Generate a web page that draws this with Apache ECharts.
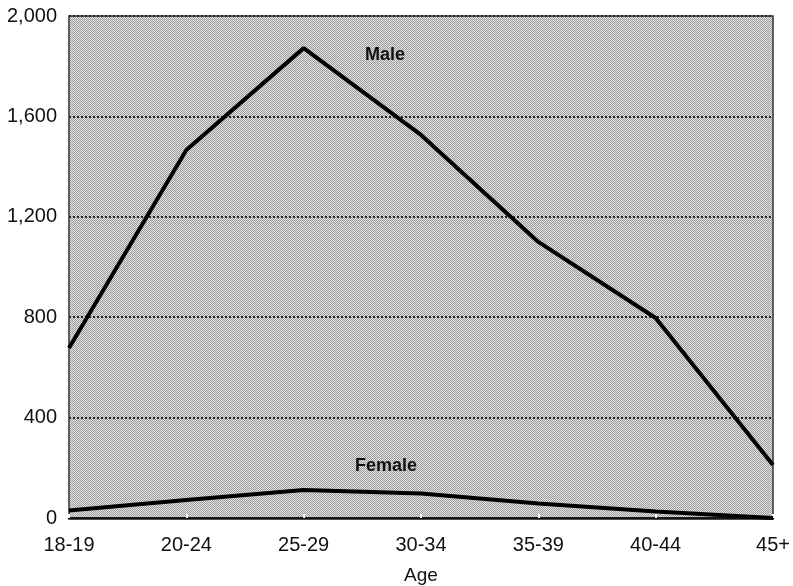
<!DOCTYPE html>
<html>
<head>
<meta charset="utf-8">
<script src="https://cdn.jsdelivr.net/npm/echarts@6/dist/echarts.min.js"></script>
<style>
  html, body { margin: 0; padding: 0; background: #fff; }
  #chart { width: 793px; height: 586px; }
</style>
</head>
<body>
<div id="chart"></div>
<script>
  // age groups on the x axis
  var ages = ['18-19', '20-24', '25-29', '30-34', '35-39', '40-44', '45+'];
  // values
  var male = [677, 1466, 1872, 1526, 1100, 797, 211];
  var female = [30, 72, 112, 98, 58, 26, 0];
  var yTicks = [0, 400, 800, 1200, 1600, 2000];

  // fine checker tile to imitate the printed grey stipple
  function stipple() {
    var c = document.createElement('canvas');
    c.width = 2; c.height = 2;
    var ctx = c.getContext('2d');
    ctx.fillStyle = '#e2e2e2';
    ctx.fillRect(0, 0, 2, 2);
    ctx.fillStyle = '#9c9c9c';
    ctx.fillRect(0, 0, 1, 1);
    ctx.fillRect(1, 1, 1, 1);
    return c;
  }

  var chart = echarts.init(document.getElementById('chart'));
  var font = 'Liberation Sans, Arial, sans-serif';

  chart.setOption({
    backgroundColor: '#fff',
    animation: false,
    grid: {
      left: 69, right: 20, top: 16, bottom: 68,
      outerBoundsMode: 'none',
      show: true,
      backgroundColor: { image: stipple(), repeat: 'repeat' },
      borderColor: '#333',
      borderWidth: 1.5
    },
    xAxis: {
      type: 'category',
      data: ages,
      boundaryGap: false,
      name: 'Age',
      nameLocation: 'middle',
      nameGap: 48,
      nameTextStyle: { color: '#111', fontSize: 19, fontFamily: font },
      axisLine: { lineStyle: { color: '#111', width: 2.5 } },
      axisTick: { show: true, length: 4, inside: true, lineStyle: { color: '#fff', width: 2 } },
      axisLabel: { color: '#111', fontSize: 20, fontFamily: font, margin: 17 },
      splitLine: { show: false }
    },
    yAxis: {
      type: 'value',
      min: yTicks[0],
      max: yTicks[yTicks.length - 1],
      interval: 400,
      axisLine: { show: false },
      axisTick: { show: false },
      axisLabel: {
        color: '#111', fontSize: 20, fontFamily: font, margin: 12,
        formatter: function (v) { return v.toLocaleString('en-US'); }
      },
      splitLine: { show: true, lineStyle: { color: '#222', width: 2, type: [2, 2] } }
    },
    graphic: [
      { type: 'text', left: 365, top: 46, style: { text: 'Male', fontSize: 18, fontWeight: 'bold', fontFamily: font, fill: '#111' } },
      { type: 'text', left: 355, top: 457, style: { text: 'Female', fontSize: 18, fontWeight: 'bold', fontFamily: font, fill: '#111' } }
    ],
    series: [
      {
        name: 'Male',
        type: 'line',
        data: male,
        symbol: 'none',
        lineStyle: { color: '#000', width: 4 },
        z: 5
      },
      {
        name: 'Female',
        type: 'line',
        data: female,
        symbol: 'none',
        lineStyle: { color: '#000', width: 4 },
        z: 5
      }
    ]
  });
</script>
</body>
</html>
